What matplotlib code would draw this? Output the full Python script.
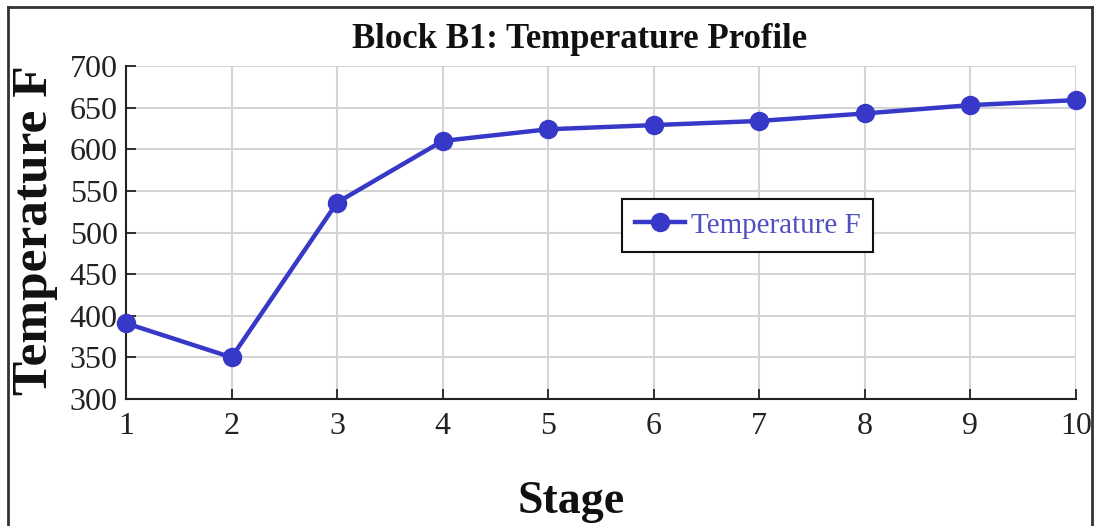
import matplotlib
matplotlib.use("Agg")
import matplotlib.pyplot as plt
from matplotlib.lines import Line2D

stages = [1, 2, 3, 4, 5, 6, 7, 8, 9, 10]
temperature_f = [391, 350, 536, 610, 624, 629, 634, 643, 653, 659]
y_ticks = [300, 350, 400, 450, 500, 550, 600, 650, 700]

W, H = 1097, 526
fig = plt.figure(figsize=(W / 100, H / 100), dpi=100)
plt.rcParams['font.family'] = ['Liberation Serif', 'DejaVu Serif']

ax = fig.add_axes([126 / W, 1 - 399 / H, (1076 - 126) / W, (399 - 66) / H])
color = '#3838c8'
ax.plot(stages, temperature_f, color=color, lw=3.2, marker='o', ms=13,
        label='Temperature F', clip_on=False, zorder=3)
ax.set_xlim(1, 10)
ax.set_ylim(300, 700)
ax.set_xticks(stages)
ax.set_yticks(y_ticks)
ax.grid(True, color='#d4d4d4', lw=1.5)
ax.set_axisbelow(True)
for s in ['top', 'right']:
    ax.spines[s].set_visible(False)
for s in ['left', 'bottom']:
    ax.spines[s].set_color('#222222')
    ax.spines[s].set_linewidth(1.5)
ax.tick_params(direction='in', length=7, width=1.3, labelsize=23, color='#222222',
               labelcolor='#222222')
ax.tick_params(axis='x', pad=9)
ax.tick_params(axis='y', pad=6)

leg = ax.legend(loc='upper left', bbox_to_anchor=((622 - 126) / 950, (399 - 199) / 333),
                frameon=True, fancybox=False, edgecolor='#111111', fontsize=21,
                handlelength=1.7, handletextpad=0.2, borderpad=0.45,
                borderaxespad=0, labelcolor='#5050c0')
leg.get_frame().set_linewidth(1.5)
leg.get_frame().set_alpha(1)

fig.text(580 / W, 1 - 40 / H, 'Block B1: Temperature Profile', ha='center', va='center',
         fontsize=25, fontweight='bold', color='#111111')
fig.text(571 / W, 1 - 513 / H, 'Stage', ha='center', va='baseline',
         fontsize=33, fontweight='bold', color='#111111')
fig.text(35 / W, 1 - 230 / H, 'Temperature F', ha='center', va='center', rotation=90,
         fontsize=37, fontweight='bold', color='#111111')

# outer frame
for xs, ys in [([8, 8], [H, 7]), ([8, 1092], [7, 7]), ([1092, 1092], [7, H])]:
    fig.add_artist(Line2D([x / W for x in xs], [1 - y / H for y in ys],
                          transform=fig.transFigure, color='#333333', lw=2))

fig.savefig('out.png', dpi=100)
